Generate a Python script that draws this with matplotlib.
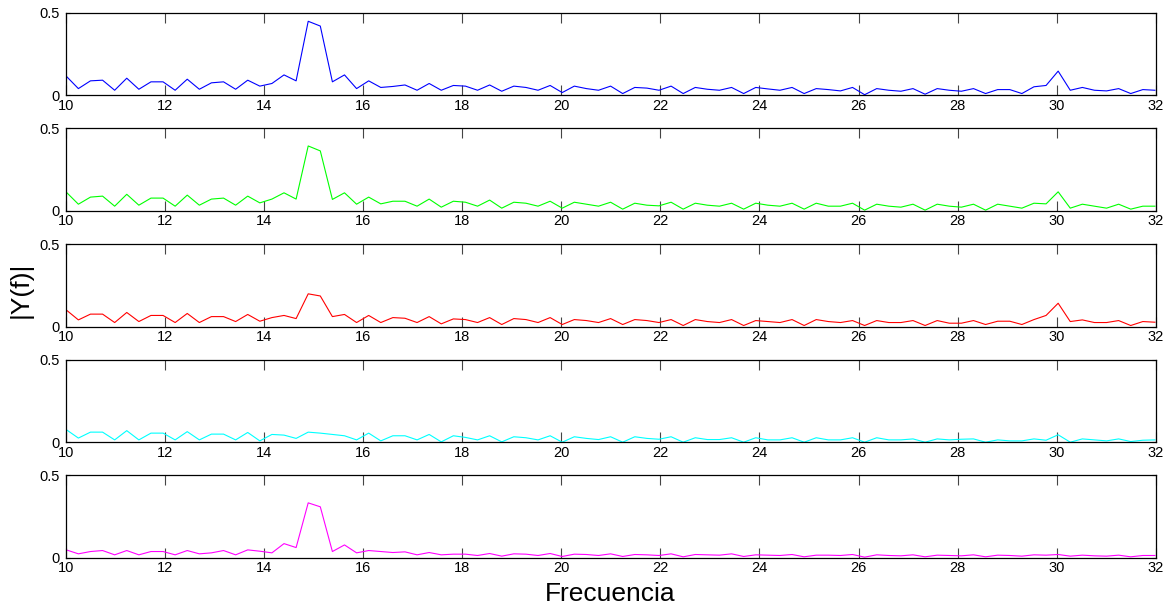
import numpy as np
import matplotlib
matplotlib.use("Agg")
import matplotlib.pyplot as plt

plt.rcParams['font.family'] = ['Liberation Sans', 'DejaVu Sans']

# FFT bin resolution (Hz) and the bins shown between 10 and 32 Hz
df = 1000.0 / 4096.0
bins = np.arange(41, 132)
freq = bins * df

mag_blue = [0.115, 0.04, 0.087, 0.091, 0.03, 0.103, 0.036, 0.081, 0.081, 0.03,
            0.097, 0.036, 0.075, 0.081, 0.036, 0.091, 0.055, 0.071, 0.123, 0.087,
            0.448, 0.419, 0.081, 0.123, 0.04, 0.087, 0.047, 0.053, 0.062, 0.03,
            0.071, 0.03, 0.059, 0.055, 0.03, 0.062, 0.024, 0.055, 0.047, 0.03,
            0.059, 0.016, 0.055, 0.04, 0.03, 0.055, 0.01, 0.047, 0.043, 0.03,
            0.055, 0.01, 0.047, 0.036, 0.03, 0.047, 0.01, 0.047, 0.038, 0.03,
            0.047, 0.01, 0.04, 0.034, 0.026, 0.047, 0.003, 0.04, 0.03, 0.024,
            0.04, 0.006, 0.04, 0.03, 0.024, 0.04, 0.01, 0.034, 0.034, 0.01,
            0.051, 0.059, 0.146, 0.03, 0.047, 0.03, 0.026, 0.04, 0.01, 0.034,
            0.03]

mag_green = [0.113, 0.04, 0.083, 0.089, 0.028, 0.10, 0.034, 0.077, 0.077, 0.028,
             0.095, 0.034, 0.071, 0.077, 0.034, 0.089, 0.048, 0.071, 0.109, 0.071,
             0.393, 0.363, 0.069, 0.109, 0.04, 0.083, 0.042, 0.058, 0.058, 0.028,
             0.071, 0.022, 0.058, 0.052, 0.028, 0.065, 0.016, 0.052, 0.046, 0.028,
             0.058, 0.016, 0.052, 0.04, 0.028, 0.052, 0.01, 0.046, 0.034, 0.03,
             0.052, 0.01, 0.046, 0.034, 0.028, 0.046, 0.01, 0.046, 0.034, 0.028,
             0.046, 0.01, 0.046, 0.028, 0.028, 0.046, 0.004, 0.04, 0.028, 0.022,
             0.04, 0.004, 0.04, 0.028, 0.022, 0.04, 0.004, 0.04, 0.028, 0.016,
             0.046, 0.042, 0.115, 0.016, 0.04, 0.028, 0.016, 0.04, 0.01, 0.028,
             0.028]

mag_red = [0.10, 0.04, 0.075, 0.075, 0.024, 0.085, 0.03, 0.067, 0.067, 0.024,
           0.079, 0.024, 0.06, 0.06, 0.03, 0.073, 0.032, 0.054, 0.067, 0.048,
           0.198, 0.185, 0.06, 0.073, 0.024, 0.067, 0.024, 0.054, 0.05, 0.024,
           0.06, 0.016, 0.046, 0.042, 0.024, 0.054, 0.012, 0.048, 0.042, 0.024,
           0.054, 0.012, 0.042, 0.036, 0.024, 0.048, 0.012, 0.042, 0.036, 0.024,
           0.042, 0.006, 0.042, 0.03, 0.024, 0.042, 0.006, 0.036, 0.03, 0.024,
           0.042, 0.006, 0.042, 0.03, 0.024, 0.036, 0.006, 0.036, 0.024, 0.024,
           0.036, 0.006, 0.036, 0.02, 0.02, 0.036, 0.012, 0.032, 0.032, 0.012,
           0.042, 0.067, 0.141, 0.03, 0.04, 0.024, 0.024, 0.036, 0.006, 0.03,
           0.026]

mag_cyan = [0.076, 0.025, 0.061, 0.061, 0.014, 0.07, 0.014, 0.055, 0.055, 0.014,
            0.064, 0.014, 0.049, 0.049, 0.014, 0.059, 0.008, 0.047, 0.043, 0.023,
            0.061, 0.055, 0.047, 0.039, 0.014, 0.055, 0.008, 0.039, 0.039, 0.014,
            0.047, 0.002, 0.039, 0.029, 0.014, 0.039, 0.002, 0.033, 0.027, 0.014,
            0.039, 0.0, 0.033, 0.023, 0.016, 0.033, 0.0, 0.033, 0.023, 0.018,
            0.033, 0.0, 0.027, 0.016, 0.016, 0.027, 0.0, 0.027, 0.014, 0.014,
            0.027, 0.0, 0.027, 0.014, 0.014, 0.027, 0.0, 0.027, 0.014, 0.014,
            0.02, 0.0, 0.02, 0.014, 0.018, 0.02, 0.0, 0.014, 0.008, 0.008,
            0.02, 0.012, 0.045, 0.0, 0.02, 0.014, 0.008, 0.02, 0.004, 0.012,
            0.014]

mag_magenta = [0.048, 0.024, 0.038, 0.044, 0.018, 0.044, 0.018, 0.038, 0.038, 0.018,
               0.044, 0.024, 0.03, 0.044, 0.018, 0.048, 0.04, 0.03, 0.086, 0.062,
               0.333, 0.309, 0.038, 0.078, 0.03, 0.044, 0.038, 0.032, 0.036, 0.018,
               0.032, 0.018, 0.022, 0.022, 0.014, 0.026, 0.01, 0.024, 0.022, 0.014,
               0.026, 0.008, 0.022, 0.02, 0.014, 0.024, 0.008, 0.02, 0.018, 0.014,
               0.024, 0.006, 0.02, 0.018, 0.016, 0.024, 0.008, 0.018, 0.016, 0.014,
               0.02, 0.006, 0.016, 0.016, 0.014, 0.02, 0.004, 0.018, 0.014, 0.012,
               0.018, 0.006, 0.016, 0.014, 0.012, 0.018, 0.006, 0.016, 0.014, 0.01,
               0.018, 0.016, 0.02, 0.01, 0.016, 0.012, 0.01, 0.016, 0.006, 0.014,
               0.014]

series = [mag_blue, mag_green, mag_red, mag_cyan, mag_magenta]
colors = ['#0000ff', '#00ff00', '#ff0000', '#00ffff', '#ff00ff']

x_ticks = np.arange(10, 33, 2)
y_ticks = [0, 0.5]
y_tick_labels = ['0', '0.5']

W, H = 1168, 611
fig = plt.figure(figsize=(W / 100, H / 100), dpi=100)

left_px, right_px = 65.8, 1155.8
panel_h = 82.5
tops = [12.7, 128.3, 244.0, 359.7, 475.3]

for top, vals, col in zip(tops, series, colors):
    ax = fig.add_axes([left_px / W, 1 - (top + panel_h) / H,
                       (right_px - left_px) / W, panel_h / H])
    ax.plot(freq, vals, color=col, lw=0.8)
    ax.set_xlim(10, 32)
    ax.set_ylim(0, 0.5)
    ax.set_xticks(x_ticks)
    ax.set_xticklabels([str(t) for t in x_ticks])
    ax.set_yticks(y_ticks)
    ax.set_yticklabels(y_tick_labels)
    ax.tick_params(axis='x', direction='in', top=True, length=7,
                   width=0.8, color='#444444', labelsize=10.5, pad=2.5)
    ax.tick_params(axis='y', direction='in', right=True, length=3,
                   width=0.8, color='#444444', labelsize=10.5, pad=4.5)
    for s in ax.spines.values():
        s.set_linewidth(0.9)
        s.set_color('black')

fig.text(0.018, 0.525, '|Y(f)|', rotation=90, ha='center', va='center',
         fontsize=19)
fig.text(0.522, 1 - 601 / H, 'Frecuencia', ha='center', va='baseline',
         fontsize=19)

fig.savefig('out.png', dpi=100)
